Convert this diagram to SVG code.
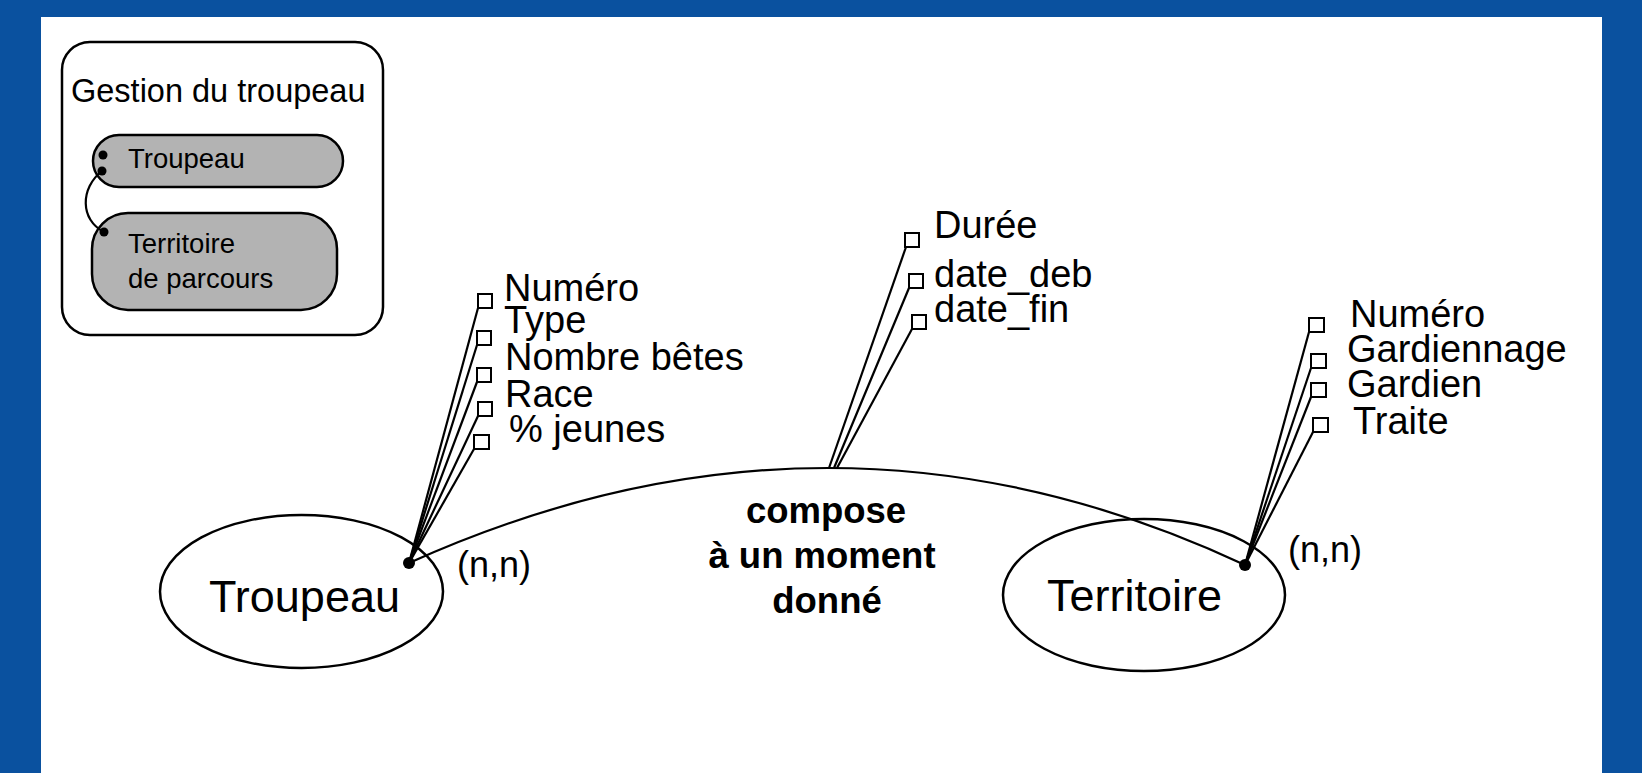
<svg xmlns="http://www.w3.org/2000/svg" width="1642" height="773" viewBox="0 0 1642 773">
<style>
.t{font-family:"Liberation Sans",Arial,sans-serif;fill:#000}
.b{font-family:"Liberation Sans",Arial,sans-serif;font-weight:bold;fill:#000;text-anchor:middle}
.ln{fill:none;stroke:#000;stroke-width:2.2}
.sq{fill:#fff;stroke:#000;stroke-width:2}
.ent{fill:none;stroke:#000;stroke-width:2.5}
.pill{fill:#b3b3b3;stroke:#000;stroke-width:2.5}
</style>
<rect x="0" y="0" width="1642" height="773" fill="#0a519f"/>
<rect x="41" y="17" width="1561" height="756" fill="#fff"/>

<g id="legend">
  <rect x="62" y="42" width="321" height="293" rx="28" ry="28" fill="#fff" stroke="#000" stroke-width="2.5"/>
  <text class="t" x="71" y="102" font-size="32.5">Gestion du troupeau</text>
  <rect class="pill" x="93" y="135" width="250" height="52" rx="26" ry="26"/>
  <text class="t" x="128" y="168" font-size="27.5">Troupeau</text>
  <rect class="pill" x="92" y="213" width="245" height="97" rx="36" ry="36"/>
  <text class="t" x="128" y="253" font-size="27.5">Territoire</text>
  <text class="t" x="128" y="288" font-size="27.5">de parcours</text>
  <path class="ln" d="M102,171 C80,188 80,220 104,232"/>
  <circle cx="103" cy="155" r="4.5"/>
  <circle cx="102" cy="171" r="4.5"/>
  <circle cx="104" cy="232" r="4.5"/>
</g>

<g id="troupeau">
  <ellipse class="ent" cx="301.5" cy="591.5" rx="141.5" ry="76.5"/>
  <text class="t" x="209" y="612" font-size="45">Troupeau</text>
  <text class="t" x="457" y="577" font-size="36">(n,n)</text>
</g>

<g id="territoire">
  <ellipse class="ent" cx="1144" cy="595" rx="141" ry="76"/>
  <text class="t" x="1047" y="611" font-size="45">Territoire</text>
  <text class="t" x="1288" y="562" font-size="36">(n,n)</text>
</g>

<g id="connectors">
  <path class="ln" d="M409,563 Q833,372 1245,565"/>
  <!-- Troupeau attributes -->
  <line class="ln" x1="409" y1="563" x2="478" y2="308"/>
  <line class="ln" x1="409" y1="563" x2="477" y2="345"/>
  <line class="ln" x1="409" y1="563" x2="477" y2="382"/>
  <line class="ln" x1="409" y1="563" x2="478" y2="416"/>
  <line class="ln" x1="409" y1="563" x2="474" y2="449"/>
  <!-- relationship attributes -->
  <line class="ln" x1="829" y1="468" x2="906" y2="247"/>
  <line class="ln" x1="834" y1="468" x2="909" y2="288"/>
  <line class="ln" x1="837" y1="468" x2="912" y2="329"/>
  <!-- Territoire attributes -->
  <line class="ln" x1="1245" y1="565" x2="1309" y2="332"/>
  <line class="ln" x1="1245" y1="565" x2="1311" y2="368"/>
  <line class="ln" x1="1245" y1="565" x2="1311" y2="397"/>
  <line class="ln" x1="1245" y1="565" x2="1313" y2="432"/>
  <circle cx="409" cy="563" r="6"/>
  <circle cx="1245" cy="565" r="6"/>
</g>

<g id="relation">
  <text class="b" x="826" y="523" font-size="36.5">compose</text>
  <text class="b" x="822" y="568" font-size="36.5">à un moment</text>
  <text class="b" x="827" y="613" font-size="36.5">donné</text>
</g>

<g id="troupeau-attrs">
  <rect class="sq" x="478" y="294" width="14" height="14"/>
  <rect class="sq" x="477" y="331" width="14" height="14"/>
  <rect class="sq" x="477" y="368" width="14" height="14"/>
  <rect class="sq" x="478" y="402" width="14" height="14"/>
  <rect class="sq" x="474" y="435" width="15" height="14"/>
  <text class="t" x="504" y="301" font-size="38">Numéro</text>
  <text class="t" x="504" y="333" font-size="38">Type</text>
  <text class="t" x="505" y="370" font-size="38">Nombre bêtes</text>
  <text class="t" x="505" y="407" font-size="38">Race</text>
  <text class="t" x="509" y="442" font-size="38">% jeunes</text>
</g>

<g id="relation-attrs">
  <rect class="sq" x="905" y="233" width="14" height="14"/>
  <rect class="sq" x="909" y="274" width="14" height="14"/>
  <rect class="sq" x="912" y="315" width="14" height="14"/>
  <text class="t" x="934" y="238" font-size="38">Durée</text>
  <text class="t" x="934" y="287" font-size="38">date_deb</text>
  <text class="t" x="934" y="322" font-size="38">date_fin</text>
</g>

<g id="territoire-attrs">
  <rect class="sq" x="1309" y="318" width="15" height="14"/>
  <rect class="sq" x="1311" y="354" width="15" height="14"/>
  <rect class="sq" x="1311" y="383" width="15" height="14"/>
  <rect class="sq" x="1313" y="418" width="15" height="14"/>
  <text class="t" x="1350" y="327" font-size="38">Numéro</text>
  <text class="t" x="1347" y="362" font-size="38">Gardiennage</text>
  <text class="t" x="1347" y="397" font-size="38">Gardien</text>
  <text class="t" x="1353" y="434" font-size="38">Traite</text>
</g>
</svg>
